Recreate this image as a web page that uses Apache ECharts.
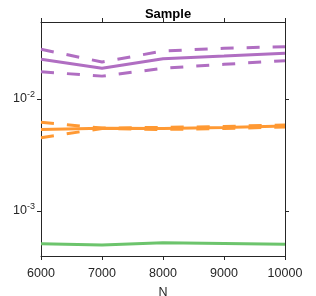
<!DOCTYPE html>
<html>
<head>
<meta charset="utf-8">
<script src="https://cdn.jsdelivr.net/npm/echarts@6/dist/echarts.min.js"></script>
<style>html,body{margin:0;padding:0;background:#fff}#c{width:316px;height:296px}</style>
</head>
<body>
<div id="c"></div>
<script>
var N = [6000, 7000, 8000, 9000, 10000];
var purpleMid = [0.0226, 0.0188, 0.0229, 0.0242, 0.0256];
var purpleHi = [0.0278, 0.0214, 0.0268, 0.0284, 0.0293];
var purpleLo = [0.0175, 0.0160, 0.0188, 0.0204, 0.0220];
var orangeMid = [0.00534, 0.00547, 0.00545, 0.00557, 0.00574];
var orangeHi = [0.00620, 0.00550, 0.00557, 0.00568, 0.00586];
var orangeLo = [0.00451, 0.00545, 0.00534, 0.00545, 0.00562];
var greenMid = [0.000510, 0.000497, 0.000521, 0.000513, 0.000504];
var yTicks = [0.001, 0.01];
var xTicks = [6000, 7000, 8000, 9000, 10000];

var PURPLE = '#b06ec2', ORANGE = '#ff9933', GREEN = '#6cc46c';
var AX = '#262626';
var FONT = 'Liberation Sans';

function pairs(ys) { return N.map(function (x, i) { return [x, ys[i]]; }); }
function line(ys, color, dashed) {
  return {
    type: 'line', data: pairs(ys), symbol: 'none', silent: true,
    lineStyle: { color: color, width: 3, type: dashed ? [13, 13] : 'solid', cap: 'butt' }
  };
}
function yFmt(v) {
  var e = Math.round(Math.log10(v));
  return '10{s|' + e + '}';
}

var chart = echarts.init(document.getElementById('c'), null, { renderer: 'canvas' });
chart.setOption({
  animation: false,
  backgroundColor: '#fff',
  title: {
    text: 'Sample', left: 163, top: 3, textAlign: 'center',
    textStyle: { fontFamily: FONT, fontSize: 13, fontWeight: 'bold', color: '#000' }
  },
  grid: { left: 41, right: 31, top: 22, bottom: 40, containLabel: false, outerBoundsMode: 'none' },
  xAxis: [{
    type: 'value', min: 6000, max: 10000, interval: 1000, position: 'bottom',
    name: 'N', nameLocation: 'middle', nameGap: 30,
    nameTextStyle: { fontFamily: FONT, fontSize: 12.5, color: AX },
    axisLine: { show: true, lineStyle: { color: AX, width: 1 } },
    axisTick: { show: true, inside: false, length: 4, customValues: xTicks, lineStyle: { color: AX } },
    axisLabel: { customValues: xTicks, formatter: function (v) { return String(v); }, fontFamily: FONT, fontSize: 12.5, color: AX, margin: 11 },
    splitLine: { show: false }
  }, {
    type: 'value', min: 6000, max: 10000, interval: 1000, position: 'top',
    axisLine: { show: true, lineStyle: { color: AX, width: 1 } },
    axisTick: { show: true, inside: false, length: 4, customValues: xTicks, lineStyle: { color: AX } },
    axisLabel: { show: false }, splitLine: { show: false }
  }],
  yAxis: [{
    type: 'log', logBase: 10, min: 3.96e-4, max: 0.0487, position: 'left',
    axisLine: { show: true, lineStyle: { color: AX, width: 1 } },
    axisTick: { show: true, inside: false, length: 4, customValues: yTicks, lineStyle: { color: AX } },
    axisLabel: {
      customValues: yTicks, formatter: yFmt, margin: 6,
      fontFamily: FONT, fontSize: 12.5, color: AX,
      rich: { s: { fontFamily: FONT, fontSize: 9, color: AX, verticalAlign: 'top', padding: [0, 0, 8, 0] } }
    },
    splitLine: { show: false }, minorTick: { show: false }
  }, {
    type: 'log', logBase: 10, min: 3.96e-4, max: 0.0487, position: 'right',
    axisLine: { show: true, lineStyle: { color: AX, width: 1 } },
    axisTick: { show: true, inside: false, length: 4, customValues: yTicks, lineStyle: { color: AX } },
    axisLabel: { show: false }, splitLine: { show: false }
  }],
  series: [
    line(purpleMid, PURPLE, false),
    line(purpleHi, PURPLE, true),
    line(purpleLo, PURPLE, true),
    line(orangeMid, ORANGE, false),
    line(orangeHi, ORANGE, true),
    line(orangeLo, ORANGE, true),
    line(greenMid, GREEN, false)
  ]
});
</script>
</body>
</html>
